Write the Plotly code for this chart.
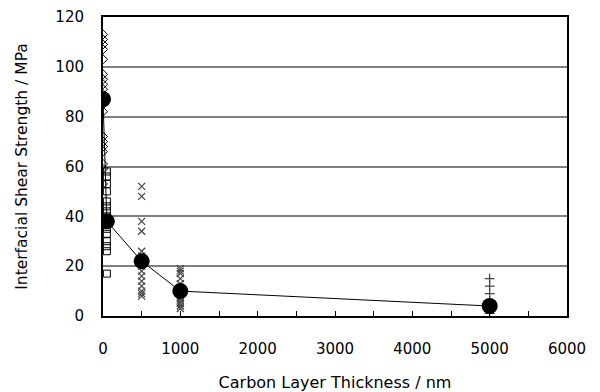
import plotly.graph_objects as go

# Data
x0_vals = [0] * 19
y0_vals = [113, 111, 109, 107, 103, 97, 95, 93, 91, 89, 85, 82, 72, 70, 68, 66, 61, 59, 53]

x50_vals = [50] * 15
y50_vals = [58, 56, 53, 50, 46, 44, 42, 40, 37, 35, 33, 30, 28, 26, 17]

x500_vals = [500] * 15
y500_vals = [52, 48, 38, 34, 26, 24, 22, 20, 18, 16, 14, 12, 10, 9, 8]

x1000_vals = [1000] * 13
y1000_vals = [19, 18, 17, 15, 13, 11, 9, 8, 7, 6, 5, 4, 3]

x5000_vals = [5000] * 6
y5000_vals = [15, 12, 9, 6, 3, 1]

mean_x = [0, 50, 500, 1000, 5000]
mean_y = [87, 38, 22, 10, 4]

fig = go.Figure()

fig.add_trace(go.Scatter(x=mean_x, y=mean_y, mode="lines",
                         line=dict(color="black", width=1), showlegend=False))
fig.add_trace(go.Scatter(x=x0_vals, y=y0_vals, mode="markers",
                         marker=dict(symbol="diamond-open", size=7, color="black", line=dict(width=1)),
                         showlegend=False))
fig.add_trace(go.Scatter(x=x50_vals, y=y50_vals, mode="markers",
                         marker=dict(symbol="square-open", size=7, color="black", line=dict(width=1)),
                         showlegend=False))
fig.add_trace(go.Scatter(x=x500_vals, y=y500_vals, mode="markers",
                         marker=dict(symbol="x-thin", size=7, color="black", line=dict(width=1.2)),
                         showlegend=False))
fig.add_trace(go.Scatter(x=x1000_vals, y=y1000_vals, mode="markers",
                         marker=dict(symbol="x-thin", size=7, color="black", line=dict(width=1.2)),
                         showlegend=False))
fig.add_trace(go.Scatter(x=x5000_vals, y=y5000_vals, mode="markers",
                         marker=dict(symbol="cross-thin", size=7, color="black", line=dict(width=1.2)),
                         showlegend=False))
fig.add_trace(go.Scatter(x=mean_x, y=mean_y, mode="markers",
                         marker=dict(symbol="circle", size=16, color="black"),
                         showlegend=False))

font_family = "DejaVu Sans, Liberation Sans, Arial, sans-serif"

fig.update_layout(
    width=600, height=392,
    margin=dict(l=103, r=33, t=17, b=76),
    paper_bgcolor="white", plot_bgcolor="white",
    font=dict(family=font_family, size=15, color="black"),
    xaxis=dict(
        range=[0, 6000], dtick=1000, tick0=0, automargin=False,
        showline=True, linecolor="black", linewidth=2, mirror=True,
        showgrid=False, zeroline=False,
        ticks="inside", ticklen=5, tickcolor="black", tickwidth=1,
        minor=dict(dtick=500, ticks="inside", ticklen=5, tickcolor="black", tickwidth=1),
        ticklabelstandoff=18,
        tickfont=dict(size=15),
        title=dict(text="Carbon Layer Thickness / nm", standoff=25, font=dict(size=16)),
    ),
    yaxis=dict(
        range=[0, 120], dtick=20, tick0=0, automargin=False,
        showline=True, linecolor="black", linewidth=2, mirror=True,
        showgrid=True, gridcolor="#808080", gridwidth=1.5, zeroline=False,
        ticks="", ticklabelstandoff=14,
        tickfont=dict(size=15),
        title=dict(text="Interfacial Shear Strength / MPa", standoff=24, font=dict(size=15.5)),
    ),
)

fig.write_html("out.html")
